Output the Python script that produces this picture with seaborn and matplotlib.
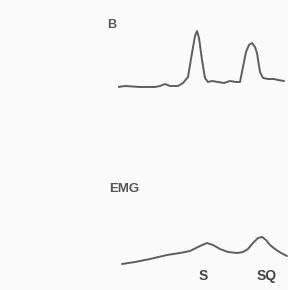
import numpy as np
import pandas as pd
import matplotlib
matplotlib.use("Agg")
import matplotlib.pyplot as plt
import seaborn as sns

# trace B (time in samples, amplitude in arbitrary units)
b_time = [0, 7, 22, 37, 42, 47, 52, 60, 65, 70, 74, 77, 79, 81, 84, 87, 90, 94,
          100, 106, 112, 118, 122, 125, 128, 131, 134, 137, 139, 142, 145, 150,
          156, 160, 166]
b_amp = [0, 1, 0, 0, 1, 3, 1, 1, 4, 10, 34, 51, 56, 49, 27, 9, 5, 6,
         5, 4, 6, 5, 5, 20, 35, 42, 44, 40, 34, 15, 9, 8,
         8, 7, 6]

# EMG trace
emg_time = [4, 17, 32, 49, 62, 72, 82, 89, 95, 102, 110, 119, 125, 130, 135,
            140, 144, 148, 152, 157, 163, 169]
emg_amp = [0, 2, 5, 9, 11, 13, 18, 21, 19, 15, 12, 11, 12, 15, 21,
           26, 27, 24, 19, 15, 11, 8]

# event labels under EMG
event_labels = ["S", "SQ"]
event_times = [85, 149]

sns.set_style("white")
plt.rcParams['font.family'] = ['Liberation Sans', 'DejaVu Sans']

W, H = 288, 290
fig = plt.figure(figsize=(W / 100, H / 100), dpi=100)
fig.patch.set_facecolor("#fbfbfb")

line_col = "#5e5e5e"

# B axes: 1 unit = 1 px
axB = fig.add_axes([118 / W, 1 - 100 / H, 170 / W, 80 / H])
sns.lineplot(x=b_time, y=b_amp, ax=axB, color=line_col, lw=1.4)
axB.set_xlim(0, 170)
axB.set_ylim(-13, 67)
axB.axis("off")

axE = fig.add_axes([118 / W, 1 - 290 / H, 170 / W, 80 / H])
sns.lineplot(x=emg_time, y=emg_amp, ax=axE, color=line_col, lw=1.4)
axE.set_xlim(0, 170)
axE.set_ylim(-26, 54)
axE.axis("off")

for lab, t in zip(event_labels, event_times):
    axE.text(t, -12, lab, ha="center", va="center", fontsize=10,
             color="#444444", fontweight="bold")

fig.text(107 / W, 1 - 25 / H, "B", fontsize=9, color="#555555",
         fontweight="bold", va="center", ha="left")
fig.text(109 / W, 1 - 189 / H, "EMG", fontsize=9.5, color="#555555",
         fontweight="bold", va="center", ha="left")

fig.savefig("out.png", dpi=100, facecolor=fig.get_facecolor())
